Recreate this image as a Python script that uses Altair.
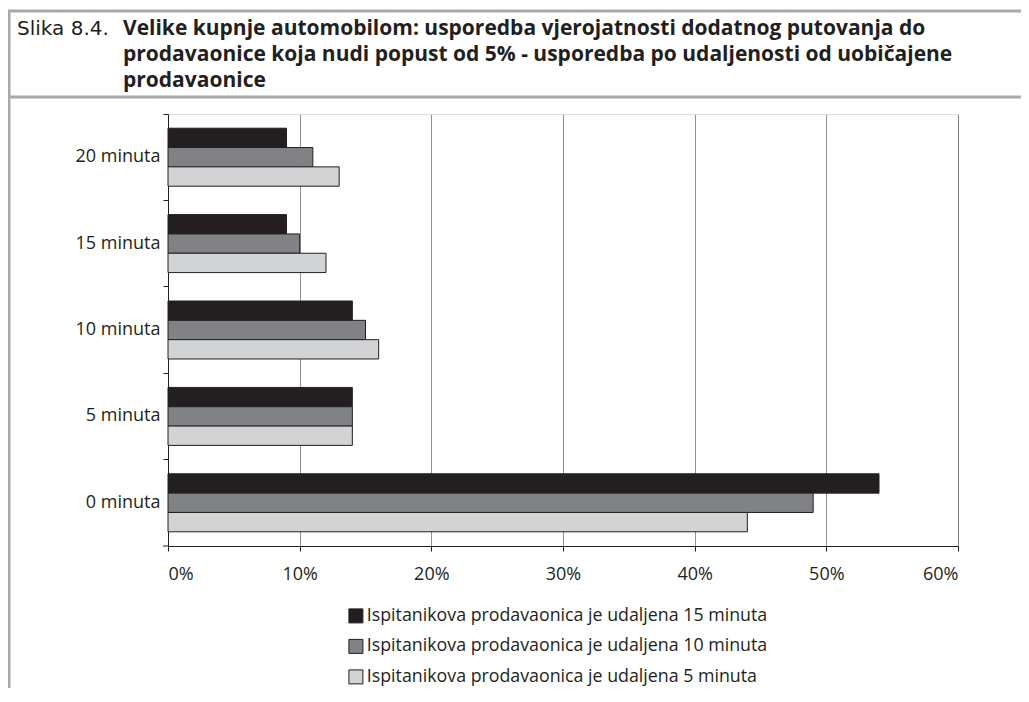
import altair as alt
import pandas as pd

categories = ["20 minuta", "15 minuta", "10 minuta", "5 minuta", "0 minuta"]
series = [
    "Ispitanikova prodavaonica je udaljena 15 minuta",
    "Ispitanikova prodavaonica je udaljena 10 minuta",
    "Ispitanikova prodavaonica je udaljena 5 minuta",
]
vals_15 = [9, 9, 14, 14, 54]
vals_10 = [11, 10, 15, 14, 49]
vals_5 = [13, 12, 16, 14, 44]
colors = ["#231f20", "#808285", "#d1d3d4"]
x_ticks = [0, 10, 20, 30, 40, 50, 60]

title_prefix = "Slika 8.4."
title_lines = [
    "Velike kupnje automobilom: usporedba vjerojatnosti dodatnog putovanja do",
    "prodavaonice koja nudi popust od 5% - usporedba po udaljenosti od uobičajene",
    "prodavaonice",
]

rows = []
for s, vals in zip(series, [vals_15, vals_10, vals_5]):
    for c, v in zip(categories, vals):
        rows.append({"kat": c, "serija": s, "vrijednost": v})
df = pd.DataFrame(rows)
one = pd.DataFrame({"a": [0]})

FONT = "Open Sans"
INK = "#231f20"
FRAME = "#a7a9ac"

W, H = 790, 432

bars = alt.Chart(df).mark_bar(stroke=INK, strokeWidth=1).encode(
    y=alt.Y(
        "kat:N",
        sort=categories,
        scale=alt.Scale(paddingInner=0, paddingOuter=0),
        axis=alt.Axis(
            title=None, bandPosition=0, tickSize=5, labelPadding=3,
            domainColor=INK, tickColor=INK, labelColor=INK,
            labelFont=FONT, labelFontSize=18, grid=False,
        ),
    ),
    yOffset=alt.YOffset(
        "serija:N", sort=series,
        scale=alt.Scale(paddingInner=0, paddingOuter=0.735),
    ),
    x=alt.X(
        "vrijednost:Q",
        scale=alt.Scale(domain=[0, 60], nice=False),
        axis=alt.Axis(
            title=None, values=x_ticks, labelExpr="datum.value + '%'",
            tickSize=5, labelPadding=14, domainColor=INK, tickColor=INK,
            labelColor=INK, labelFont=FONT, labelFontSize=18,
            grid=True, gridColor=INK, gridDash=[1, 1], gridWidth=1,
        ),
    ),
    color=alt.Color(
        "serija:N", sort=series,
        scale=alt.Scale(domain=series, range=colors),
        legend=alt.Legend(
            title=None, orient="none", legendX=179, legendY=493,
            direction="vertical", symbolType="square", symbolSize=196,
            symbolStrokeColor=INK, symbolStrokeWidth=1,
            labelFont=FONT, labelFontSize=17.8, labelColor=INK,
            labelOffset=2, rowPadding=11.5, padding=0, labelLimit=600,
        ),
    ),
)

bottom_tick = alt.Chart(one).mark_rule(color=INK, strokeWidth=1).encode(
    x=alt.value(-5), x2=alt.value(0), y=alt.value(H)
)

frame_top = alt.Chart(one).mark_rule(color=FRAME, strokeWidth=3).encode(
    x=alt.value(-160), x2=alt.value(870), y=alt.value(-103)
)
frame_sep = alt.Chart(one).mark_rule(color=FRAME, strokeWidth=3).encode(
    x=alt.value(-160), x2=alt.value(870), y=alt.value(-17)
)
frame_left = alt.Chart(one).mark_rule(color=FRAME, strokeWidth=3).encode(
    x=alt.value(-159), y=alt.value(-104), y2=alt.value(600)
)

t_prefix = alt.Chart(one).mark_text(
    text=title_prefix, align="left", baseline="alphabetic",
    font="DejaVu Sans", fontSize=20, color=INK,
).encode(x=alt.value(-151), y=alt.value(-79))

t_main = alt.Chart(one).mark_text(
    text=title_lines, align="left", baseline="alphabetic",
    font=FONT, fontSize=21, fontWeight="bold", color=INK, lineHeight=26,
).encode(x=alt.value(-45), y=alt.value(-79))

chart = alt.layer(
    bars, bottom_tick, frame_top, frame_sep, frame_left, t_prefix, t_main
).properties(
    width=W, height=H,
    autosize=alt.AutoSizeParams(type="none"),
    padding={"left": 160, "top": 106, "right": 63, "bottom": 142},
).configure_view(stroke=INK, strokeWidth=1, fill="white").configure(background="white")

chart.save("out.html", embed_options={"renderer": "svg", "actions": False})
